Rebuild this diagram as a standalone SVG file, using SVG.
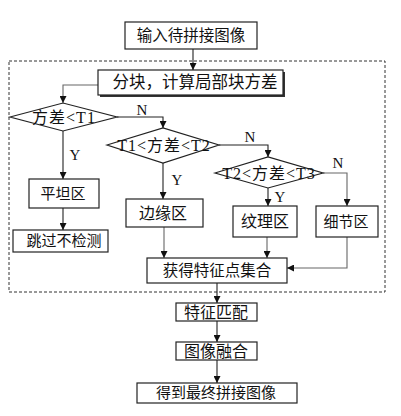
<svg xmlns="http://www.w3.org/2000/svg" width="401" height="416" viewBox="0 0 401 416">
<defs>
<marker id="ah" viewBox="0 0 10 10" refX="10" refY="5" markerWidth="7" markerHeight="7" markerUnits="userSpaceOnUse" orient="auto">
<path d="M0,0 L10,5 L0,10 z" fill="#111"/>
</marker>
<style>
.box{fill:#fff;stroke:#222;stroke-width:1.2}
.dia{fill:#fff;stroke:#222;stroke-width:1.2}
.t{font-family:"Liberation Serif","Noto Sans CJK SC",serif;font-size:15px;fill:#111;text-anchor:middle;dominant-baseline:central}
.dt{font-family:"Liberation Serif","Noto Sans CJK SC",serif;font-size:16px;fill:#111;text-anchor:middle;dominant-baseline:central;letter-spacing:1px}
.lab{font-family:"Liberation Serif",serif;font-size:15px;fill:#111;text-anchor:middle;dominant-baseline:central}
.c{fill:none;stroke:#222;stroke-width:1.1;marker-end:url(#ah)}
.g{fill:none;stroke:#666;stroke-width:1.1;marker-end:url(#ah)}
</style>
</defs>
<rect x="9" y="61" width="376" height="231" fill="none" stroke="#333" stroke-width="1" stroke-dasharray="3,2"/>
<g id="connectors">
<path class="c" d="M193,49 V70"/>
<path class="g" d="M99,85 H63 V103"/>
<path class="c" d="M117,117 H163 V128"/>
<path class="c" d="M63,131 V179"/>
<path class="c" d="M63,208 V230"/>
<path class="c" d="M219,145 H268 V157"/>
<path class="c" d="M163,163 V199"/>
<path class="c" d="M268,188 V206"/>
<path class="g" d="M323,173 H347 V206"/>
<path class="g" d="M164,227 V258"/>
<path class="g" d="M267,237 V258"/>
<path class="g" d="M347,237 V268 H287"/>
<path class="c" d="M217,283 V303"/>
<path class="c" d="M217,321 V342"/>
<path class="c" d="M217,360 V383"/>
<text class="lab" x="142" y="110">N</text>
<text class="lab" x="75" y="155">Y</text>
<text class="lab" x="250" y="137">N</text>
<text class="lab" x="177" y="180">Y</text>
<text class="lab" x="338" y="163">N</text>
<text class="lab" x="280" y="197">Y</text>
</g>
<g id="input"><rect class="box" x="125" y="22" width="132" height="27"/><text class="t" x="191" y="35.5" style="font-size:15.5px">输入待拼接图像</text></g>
<g id="block"><rect x="100" y="72" width="185" height="25" fill="#333"/><rect class="box" x="98" y="70" width="185" height="25"/><text class="t" x="195" y="82.5" style="font-size:16.5px">分块，计算局部块方差</text></g>
<g id="d1"><path class="dia" d="M10,117 L63,103 L117,117 L63,131 Z"/><text class="dt" x="64" y="117">方差&lt;T1</text></g>
<g id="d2"><path class="dia" d="M107,145 L163,128 L219,145 L163,163 Z"/><text class="dt" x="164" y="145">T1&lt;方差&lt;T2</text></g>
<g id="d3"><path class="dia" d="M215,173 L268,157 L323,173 L268,188 Z"/><text class="dt" x="269" y="173">T2&lt;方差&lt;T3</text></g>
<g id="flat"><rect class="box" x="29" y="179" width="70" height="29"/><text class="t" x="63" y="193.5">平坦区</text></g>
<g id="skip"><rect class="box" x="13" y="230" width="95" height="22"/><text class="t" x="64" y="241">跳过不检测</text></g>
<g id="edge"><rect class="box" x="126" y="199" width="77" height="28"/><text class="t" x="163" y="213" style="font-size:16px">边缘区</text></g>
<g id="texture"><rect class="box" x="233" y="206" width="64" height="31"/><text class="t" x="265" y="221.5" style="font-size:16px">纹理区</text></g>
<g id="detail"><rect class="box" x="316" y="206" width="62" height="31"/><text class="t" x="346" y="221.5">细节区</text></g>
<g id="collect"><rect class="box" x="147" y="258" width="140" height="25"/><text class="t" x="217" y="270.5" style="font-size:15.5px">获得特征点集合</text></g>
<g id="match"><rect class="box" x="176" y="303" width="81" height="18"/><text class="t" x="216" y="312" style="font-size:16px">特征匹配</text></g>
<g id="fuse"><rect class="box" x="176" y="342" width="81" height="18"/><text class="t" x="216" y="351" style="font-size:16px">图像融合</text></g>
<g id="output"><rect class="box" x="137" y="383" width="160" height="20"/><text class="t" x="216" y="393">得到最终拼接图像</text></g>
</svg>
